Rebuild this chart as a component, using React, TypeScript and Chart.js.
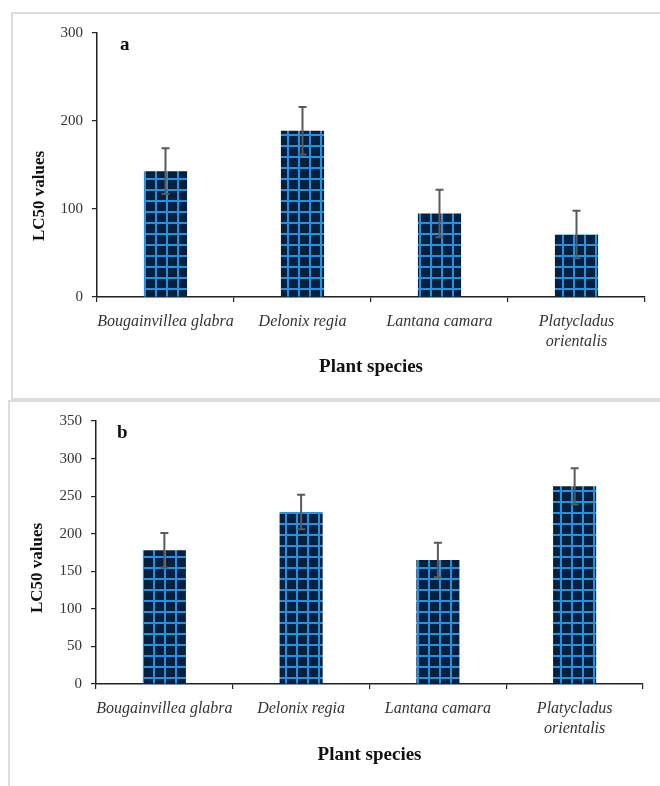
import React, { useEffect, useRef } from "react";
import { Chart, registerables } from "chart.js";

Chart.register(...registerables);

const species = ["Bougainvillea glabra", "Delonix regia", "Lantana camara", "Platycladus orientalis"];
const speciesTickLabels = [["Bougainvillea glabra"], ["Delonix regia"], ["Lantana camara"], ["Platycladus", "orientalis"]];

const lc50PanelA = [143, 189, 95, 71];
const sdPanelA = [26, 27, 27, 27];
const yTicksPanelA = [0, 100, 200, 300];

const lc50PanelB = [178, 229, 165, 263];
const sdPanelB = [23, 23, 23, 24];
const yTicksPanelB = [0, 50, 100, 150, 200, 250, 300, 350];

const yTitle = "LC50 values";
const xTitle = "Plant species";

function makePattern(): CanvasPattern | string {
  const c = document.createElement("canvas");
  c.width = 11;
  c.height = 11;
  const g = c.getContext("2d");
  if (!g) return "#05203f";
  g.fillStyle = "#04203f";
  g.fillRect(0, 0, 11, 11);
  g.fillStyle = "#2492e0";
  g.fillRect(0, 0, 11, 2);
  g.fillRect(0, 0, 2, 11);
  return g.createPattern(c, "repeat") || "#05203f";
}

const errorBarsPlugin = {
  id: "errbars",
  afterDatasetsDraw(chart: any, _args: any, opts: any) {
    if (!opts || !opts.errors) return;
    const ctx = chart.ctx;
    const meta = chart.getDatasetMeta(0);
    const ys = chart.scales.y;
    const data = chart.data.datasets[0].data;
    ctx.save();
    ctx.strokeStyle = "#5a5a5a";
    ctx.lineWidth = 2;
    meta.data.forEach((bar: any, i: number) => {
      const v = data[i];
      const e = opts.errors[i];
      const x = bar.x;
      const yt = ys.getPixelForValue(v + e);
      const yb = ys.getPixelForValue(v - e);
      ctx.beginPath();
      ctx.moveTo(x, yt);
      ctx.lineTo(x, yb);
      ctx.moveTo(x - 4, yt);
      ctx.lineTo(x + 4, yt);
      ctx.moveTo(x - 4, yb);
      ctx.lineTo(x + 4, yb);
      ctx.stroke();
    });
    ctx.restore();
  },
};

const annotPlugin = {
  id: "annot",
  afterDraw(chart: any, _args: any, opts: any) {
    if (!opts) return;
    const ctx = chart.ctx;
    const area = chart.chartArea;
    ctx.save();
    ctx.fillStyle = "#111";
    ctx.font = "bold 19px 'Liberation Serif'";
    ctx.textAlign = "left";
    ctx.textBaseline = "alphabetic";
    ctx.fillText(opts.letter, area.left + opts.letterDx, area.top + opts.letterDy);
    ctx.translate(opts.titleX, area.top + opts.titleDy);
    ctx.rotate(-Math.PI / 2);
    ctx.font = "bold 17px 'Liberation Serif'";
    ctx.textAlign = "center";
    ctx.textBaseline = "middle";
    ctx.fillText(yTitle, 0, 0);
    ctx.restore();
  },
};

type PanelProps = {
  left: number;
  top: number;
  width: number;
  height: number;
  values: number[];
  errors: number[];
  yTicks: number[];
  letter: string;
  padTop: number;
  padRight: number;
  yWidth: number;
  xHeight: number;
  letterDx: number;
  letterDy: number;
  titleX: number;
  titleDy: number;
  xTitlePad: number;
};

function Panel(p: PanelProps) {
  const ref = useRef<HTMLCanvasElement | null>(null);
  useEffect(() => {
    if (!ref.current) return;
    const pattern = makePattern();
    const chart = new Chart(ref.current, {
      type: "bar",
      data: {
        labels: speciesTickLabels as any,
        datasets: [
          {
            label: yTitle,
            data: p.values,
            backgroundColor: pattern as any,
            borderWidth: 0,
            categoryPercentage: 1,
            barPercentage: 0.315,
          },
        ],
      },
      plugins: [errorBarsPlugin, annotPlugin],
      options: {
        responsive: false,
        animation: false,
        devicePixelRatio: 1,
        layout: { padding: { left: 0, top: p.padTop, right: p.padRight, bottom: 0 } },
        plugins: {
          legend: { display: false },
          tooltip: { enabled: false },
          errbars: { errors: p.errors },
          annot: {
            letter: p.letter,
            letterDx: p.letterDx,
            letterDy: p.letterDy,
            titleX: p.titleX,
            titleDy: p.titleDy,
          },
        } as any,
        scales: {
          x: {
            afterFit: (s: any) => {
              s.height = p.xHeight;
            },
            grid: {
              display: true,
              drawOnChartArea: false,
              drawTicks: true,
              tickLength: 5,
              color: "#222",
              lineWidth: 1.2,
              offset: true,
            },
            border: { display: true, color: "#222", width: 1.5 },
            ticks: {
              color: "#333",
              padding: 9,
              maxRotation: 0,
              autoSkip: false,
              font: { family: "'Liberation Serif'", size: 16, style: "italic", lineHeight: 1.3 },
            },
            title: {
              display: true,
              text: xTitle,
              color: "#111",
              font: { family: "'Liberation Serif'", size: 19, weight: "bold" },
              padding: { top: 0, bottom: p.xTitlePad },
            },
          },
          y: {
            min: p.yTicks[0],
            max: p.yTicks[p.yTicks.length - 1],
            afterFit: (s: any) => {
              s.width = p.yWidth;
            },
            afterBuildTicks: (s: any) => {
              s.ticks = p.yTicks.map((v) => ({ value: v }));
            },
            grid: {
              display: true,
              drawOnChartArea: false,
              drawTicks: true,
              tickLength: 5,
              color: "#222",
              lineWidth: 1.2,
            },
            border: { display: true, color: "#222", width: 1.5 },
            ticks: {
              color: "#333",
              padding: 9,
              font: { family: "'Liberation Serif'", size: 15 },
            },
          },
        },
      },
    });
    return () => chart.destroy();
  }, []);
  return (
    <canvas
      ref={ref}
      width={p.width}
      height={p.height}
      style={{ position: "absolute", left: p.left, top: p.top, width: p.width, height: p.height }}
    />
  );
}

export default function App() {
  return (
    <div
      style={{
        position: "fixed",
        left: 0,
        top: 0,
        width: 660,
        height: 786,
        overflow: "hidden",
        background: "#fff",
      }}
    >
      <div
        style={{
          position: "absolute",
          left: 11,
          top: 12,
          width: 700,
          height: 388,
          border: "2px solid #dcdcdc",
          boxSizing: "border-box",
        }}
      />
      <div
        style={{
          position: "absolute",
          left: 8,
          top: 400,
          width: 700,
          height: 420,
          border: "2px solid #dcdcdc",
          boxSizing: "border-box",
        }}
      />
      <Panel
        left={12}
        top={13}
        width={648}
        height={386}
        values={lc50PanelA}
        errors={sdPanelA}
        yTicks={yTicksPanelA}
        letter="a"
        padTop={20}
        padRight={15}
        yWidth={85}
        xHeight={102}
        letterDx={23}
        letterDy={17}
        titleX={28}
        titleDy={163}
        xTitlePad={21}
      />
      <Panel
        left={10}
        top={402}
        width={650}
        height={384}
        values={lc50PanelB}
        errors={sdPanelB}
        yTicks={yTicksPanelB}
        letter="b"
        padTop={19}
        padRight={17}
        yWidth={86}
        xHeight={102}
        letterDx={21}
        letterDy={17}
        titleX={28}
        titleDy={147}
        xTitlePad={20}
      />
    </div>
  );
}
